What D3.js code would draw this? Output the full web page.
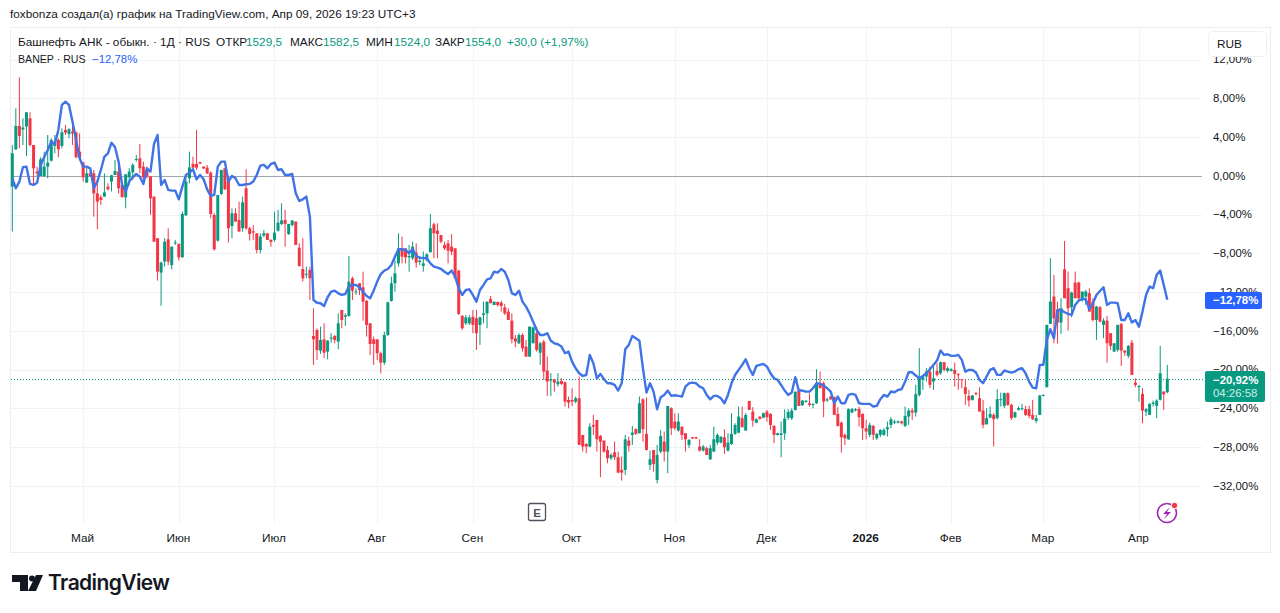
<!DOCTYPE html>
<html>
<head>
<meta charset="utf-8">
<script src="https://cdnjs.cloudflare.com/ajax/libs/d3/7.8.5/d3.min.js"></script>
<style>
    html, body { margin: 0; padding: 0; background: #fff; }
    svg { display: block; }
    text { font-family: "Liberation Sans", sans-serif; font-size: 11.8px; fill: #131722; }
</style>
</head>
<body>
<div id="chart"></div>
<script>
    // Month labels and the bar they sit on
    const monthLabels = ["Май", "Июн", "Июл", "Авг", "Сен", "Окт", "Ноя", "Дек", "2026", "Фев", "Мар", "Апр"];
    const monthBars = [20, 47, 74, 103, 130, 158, 187, 213, 241, 265, 291, 318];
    const percentTicks = [12, 8, 4, 0, -4, -8, -12, -16, -20, -24, -28, -32];

    // BANEP daily candles, % change from the start of the range
    const opens = [
        -1.1,2.75,5.16,4.8,5.1,5.95,3.2,.45,0,0,
        .96,1.58,3.1,3.72,3.1,4.75,4.33,4.58,4.5,2.5,
        1.38,-.69,.27,.27,-1.8,-2.2,-2.13,-1.1,-.58,.1,
        .45,-.93,-2.2,-.14,.38,1.68,1.82,.96,.62,-.07,
        -2.13,-6.43,-9.97,-8.84,-6.54,-9.2,-6.9,-7.02,-8.4,-4.06,
        -.24,1.24,1.24,1.41,.96,.86,.35,-4.02,-6.67,-1.86,
        .79,-.41,-5.16,-3.85,-4.54,-5.4,-1.27,-5.4,-5.71,-5.92,
        -7.64,-6.16,-5.92,-6.6,-6.6,-5.64,-4.95,-4.54,-6,-5.06,
        -4.71,-7.4,-9.6,-10.2,-9.7,
        -16.52,-15.9,-18.03,-16.86,-18.13,-16.8,-16.52,-17.1,-13.83,-14.52,
        -14.45,-10.56,-11.98,-11.08,-11.49,-12.9,-15.21,-16.86,-16.86,-18.3,
        -19.27,-16.41,-12.9,-11.08,-9.02,-7.47,-7.47,-8.4,-8.5,-7.92,
        -8.88,-9.29,-8.67,-7.88,-4.99,-5.64,-6.09,-7.12,-6.95,-7.3,
        -7.47,-9.77,-14.45,-15.21,-15.21,-14.52,-14.69,-15.38,-14.35,-14.18,
        -12.7,-13.32,-13.01,-13.08,-13.56,-14,-14.93,-16.76,-17.27,-16.41,
        -17.62,-18.65,-17.27,-16.24,-18.24,-17.1,-20.09,-21.12,-20.98,-21.5,
        -21.16,-21.29,-23.12,-23.12,-23.29,-22.94,-26.73,-27.66,-27.93,-25.7,
        -25.18,-26.83,-27.31,-28.28,-29.14,-28.52,-29.03,-30.34,-30.34,-27.31,
        -26.73,-26.14,-26.56,-23.05,-26.62,-29.82,-28.28,-31.37,-28.45,-27.42,
        -28.45,-23.98,-25.35,-26.28,-25.87,-26.56,-27.76,-26.97,-26.97,-27.93,
        -28.34,-28.1,-29.24,-28.45,-27.52,-27.52,-26.97,-28.34,-27.66,-26.62,
        -26.49,-25.01,-26.28,-23.22,-24.32,-25.46,-24.84,-24.94,-24.32,-24.56,
        -25.8,-26.73,-26.73,-26.56,-24.97,-25.01,-24.15,-22.15,-23.67,-23.32,
        -23.46,-23.63,-23.46,-21.46,-21.4,-23.18,-22.77,-22.84,-24.56,-25.46,
        -26.73,-27.18,-24.42,-24.21,-24.04,-24.56,-26.04,-26.72,-25.8,-27.07,
        -26.72,-26.72,-26.14,-25.69,-25.45,-25.45,-25.35,-25.8,-24.83,-24.21,
        -24.42,-22.6,-21.05,-20.7,-20.19,-21.22,-20.12,-20.36,-19.22,-20.12,
        -20.12,-20.02,-20.46,-20.98,-21.8,-22.7,-23.11,-22.42,-22.94,-24.21,
        -25.62,-24.94,-24.66,-25,-23.11,-23.73,-22.42,-23.63,-24.9,-24.14,
        -24.07,-24.07,-24.07,-24.66,-25.28,-24.66,-22.7,-21.81,-15.27,-12.45,
        -13.83,-15.13,-9.63,-11.59,-13.55,-11,-11,-12.62,-12.45,-12.1,
        -12.97,-14.86,-13.55,-15.37,-14.93,-16.23,-18.13,-17.95,-15.27,-18.02,
        -18.57,-17.2,-21.33,-21.74,-22.49,-24.32,-24.66,-23.53,-23.73,-23.11,
        -22.25,-22.32
    ];
    const highs = [
        3.2,6.98,10.18,5.95,6.57,6.57,3.2,.96,1.93,2.5,
        4.23,3.89,4.23,3.89,4.92,5.26,4.92,5.95,4.58,4.4,
        1.48,.96,.79,.62,-.76,-1.96,.27,-.76,.1,1.65,
        1.31,-.76,.17,.79,1.31,2.17,3.3,1.48,.96,0,
        -2.13,-6.43,-8.84,-6.43,-5.4,-7.3,-6.6,-6.95,-3.68,.1,
        2.51,2,4.75,1.48,1,1.14,.45,-3.85,-1.96,.62,
        .79,0,-3.34,-3.34,-2.65,-2.13,.69,-5.23,-5.06,-5.92,
        -5.92,-5.57,-5.92,-6.54,-3.68,-3.5,-2.82,-3.5,-4.95,-4.54,
        -4.71,-6.95,-6.43,-9.36,-9.36,
        -13.66,-15.72,-15.55,-15.21,-16.93,-16.24,-16.41,-14.18,-13.83,-14.18,
        -8.26,-10.39,-11.6,-11.08,-9.88,-12.8,-15.21,-16.58,-16.86,-18.13,
        -16.07,-12.97,-10.39,-8.67,-5.92,-6.26,-7.47,-7.12,-6.78,-6.95,
        -8.33,-7.81,-7.98,-3.92,-4.82,-4.89,-6.09,-6.78,-6.61,-6.02,
        -7.47,-9.7,-14.35,-14.35,-14.35,-13.83,-13.83,-14.52,-12.97,-12.97,
        -12.39,-12.97,-12.97,-12.87,-13.21,-13.66,-14.18,-16.41,-16.24,-16.24,
        -16.93,-15.55,-15.62,-15.55,-17.1,-16.92,-18.64,-20.36,-20.98,-20.36,
        -20.88,-21.22,-22.77,-21.91,-22.77,-20.71,-26.73,-27.59,-25.52,-24.66,
        -25.18,-26.73,-27.31,-27.86,-28.62,-27.42,-28.45,-28.96,-26.73,-26.9,
        -25.8,-26.04,-22.77,-22.94,-22.84,-28.34,-28.28,-27.76,-26.21,-26.38,
        -23.74,-23.87,-24.49,-24.49,-25.87,-26.56,-27.18,-26.93,-26.9,-27.18,
        -27.76,-27.93,-27.76,-25.87,-26.56,-26.9,-26.14,-26.56,-24.49,-25.52,
        -23.8,-23.8,-24.49,-23.22,-23.87,-25.01,-24.8,-24.42,-24.15,-24.49,
        -25.7,-26.5,-25.35,-24.08,-24.08,-23.98,-22.26,-22.08,-23.12,-23.15,
        -22.43,-23.46,-19.95,-20.19,-21.22,-22.9,-22.7,-22.77,-23.87,-25.35,
        -26.56,-23.98,-23.97,-23.97,-23.8,-24.49,-25.18,-25.45,-25.69,-26.55,
        -26.14,-26.04,-25.35,-24.9,-25.18,-25.25,-25.25,-23.8,-23.97,-23.97,
        -21.56,-17.78,-20.53,-19.84,-19.67,-19.5,-19.33,-19.16,-19.22,-19.67,
        -19.84,-19.26,-20.36,-20.98,-20.98,-22.08,-22.6,-22.3,-21.8,-23.11,
        -23.97,-23.8,-24.49,-22.01,-22.36,-22.36,-22.36,-23.52,-24.32,-23.8,
        -23.52,-23.73,-23.73,-23.11,-24.66,-22.6,-22.55,-15.37,-8.49,-10.21,
        -12.97,-12.62,-6.71,-9.87,-11.93,-9.87,-10.9,-11.93,-11.76,-11.59,
        -12.62,-13.41,-13.41,-14.69,-14.45,-16.23,-17.27,-15.37,-15.2,-18.02,
        -17.44,-16.92,-20.88,-21.57,-21.91,-23.97,-23.46,-23.18,-23.05,-17.54,
        -22.25,-19.5
    ];
    const lows = [
        -5.74,2.68,2.85,3.2,2.06,3.03,-.93,-.07,0,-.07,
        -.24,1.48,2.34,1.93,2.85,4.23,3.89,3.2,1.82,1.72,
        -.58,-.69,-.07,-4.2,-5.5,-3,-2.13,-1.5,-1.6,.1,
        -1.8,-2.2,-3.34,-.93,-.41,1.48,.27,-.76,-.24,-4.02,
        -6.78,-10.8,-13.4,-9.36,-9.2,-9.63,-7.12,-8.74,-8.4,-4.13,
        -.76,.62,.62,1.24,.75,.2,-4.37,-7.7,-6.78,-1.96,
        -1.44,-6.88,-6.43,-4.71,-5.74,-5.74,-5.57,-6.67,-6.6,-7.98,
        -7.98,-6.33,-6.6,-7.3,-6.78,-5.74,-5.06,-7.3,-6.09,-5.23,
        -7.12,-9.36,-10.9,-10.56,-12.8,
        -19.51,-18.99,-18.37,-18.82,-18.92,-17.2,-17.27,-17.89,-15.72,-15.48,
        -14.52,-12.8,-12.28,-12.28,-14.93,-16.58,-18.48,-19.51,-18.99,-20.37,
        -19.51,-16.52,-12.97,-11.94,-9.36,-9.02,-9.02,-9.88,-8.67,-9.46,
        -9.19,-9.88,-8.84,-7.88,-8.5,-8.5,-6.95,-7.64,-9.02,-8.16,
        -10.56,-14.35,-15.9,-15.38,-15.38,-16.24,-17.96,-17.44,-15.21,-15.72,
        -13.14,-13.32,-13.49,-14,-14.35,-14.86,-17.27,-17.68,-17.34,-18.13,
        -18.65,-18.65,-17.27,-18.13,-19.51,-21.05,-22.7,-22.7,-22.26,-21.74,
        -21.57,-23.8,-23.98,-23.74,-23.46,-27.76,-28.45,-28.62,-28,-26.73,
        -28.45,-31.1,-28.55,-29.65,-29.31,-29.31,-30.68,-31.44,-30.86,-28.45,
        -27.76,-26.73,-26.56,-27.42,-28.34,-30.34,-30.51,-31.72,-28.62,-29.48,
        -30.68,-26.73,-26.21,-26.38,-27.24,-28.45,-28.1,-27.14,-27.14,-28.45,
        -28.45,-28.79,-29.31,-28.45,-27.76,-27.59,-28.69,-28.45,-27.76,-26.73,
        -26.56,-25.94,-26.28,-24.15,-25.87,-25.52,-25.15,-25.01,-25.35,-26.21,
        -27.59,-26.8,-29.03,-27.24,-25.18,-25.18,-24.22,-23.74,-23.74,-23.4,
        -23.8,-23.98,-23.53,-21.91,-24.9,-23.3,-23.12,-24.66,-25.87,-28.55,
        -27.76,-27.24,-24.49,-24.3,-25.86,-27.24,-27.17,-26.96,-27.24,-27.24,
        -26.96,-26.83,-26.9,-26.04,-25.59,-25.55,-25.65,-25.93,-25.69,-25.18,
        -24.83,-22.77,-22.08,-21.22,-21.91,-22.08,-20.7,-20.53,-20.19,-20.29,
        -20.19,-21.74,-22.08,-21.91,-23.63,-23.8,-23.18,-22.65,-24.32,-26.04,
        -25.69,-25,-27.93,-25.11,-23.8,-23.97,-23.73,-25.18,-25,-24.21,
        -24.21,-24.76,-25,-25.18,-25.52,-24.66,-22.75,-21.81,-15.27,-17.27,
        -17.27,-16.3,-12.62,-15.96,-14.58,-12.62,-12.79,-12.97,-13.31,-14,
        -15.03,-16.92,-15.13,-16.75,-19.26,-17.95,-18.13,-18.13,-19.61,-18.57,
        -18.81,-20.53,-21.81,-23.29,-25.52,-24.77,-24.66,-23.8,-25,-23.18,
        -24.15,-22.43
    ];
    const closes = [
        2.34,5.16,4.13,5.0,6.57,3.2,.79,.27,1.72,.96,
        1.38,3.72,3.44,2.75,4.51,4.47,4.82,4.4,1.93,1.86,
        -.14,.27,0,-1.8,-2.65,-2.48,-1.7,-1.38,.07,.52,
        -1.27,-2.2,.17,.45,1.14,1.75,.79,-.14,-.07,-2.3,
        -6.78,-9.87,-8.94,-6.78,-8.84,-7.3,-6.85,-8.4,-3.92,-.58,
        .89,.86,.86,1.27,.76,.27,-3.92,-7.57,-1.96,.62,
        -1.38,-5.4,-3.85,-4.71,-5.74,-2.72,-5.4,-5.99,-5.85,-7.64,
        -6.26,-5.92,-6.6,-6.81,-5.85,-4.82,-4.6,-4.95,-4.95,-4.6,
        -7.12,-9.29,-10.56,-10.1,-10.56,
        -16.86,-17.96,-16.93,-18.24,-17,-16.69,-16.93,-15.21,-14.86,-14.38,
        -10.91,-11.84,-11.91,-11.77,-12.97,-15.38,-17.34,-17.34,-18.3,-19.27,
        -16.41,-13.04,-11.08,-10.05,-7.47,-8.33,-8.4,-8.26,-7.3,-8.95,
        -8.74,-9.02,-8.09,-5.4,-5.92,-5.99,-6.78,-7.47,-7.71,-7.81,
        -10.56,-14.24,-15.72,-14.59,-14.62,-15.38,-16.24,-14.59,-14.18,-12.97,
        -13.14,-12.97,-13.32,-13.42,-14.18,-14.86,-16.86,-17.1,-16.41,-17.79,
        -18.65,-15.55,-15.62,-17.96,-17.27,-20.19,-21.22,-20.98,-21.33,-21.22,
        -21.46,-23.29,-23.39,-23.29,-22.94,-27.76,-27.93,-27.93,-25.87,-25.87,
        -27.18,-27.42,-28.45,-29.14,-28.79,-29.03,-30.62,-30.62,-27.18,-27.86,
        -26.49,-26.62,-23.46,-26.14,-28.28,-29.24,-29.72,-28.79,-26.83,-28.45,
        -23.74,-26.04,-26.04,-25.35,-26.73,-27.18,-27.24,-27.1,-27.1,-28.34,
        -27.93,-28.79,-28.1,-27.18,-26.73,-26.9,-28,-27.52,-26.62,-25.7,
        -24.84,-25.94,-24.66,-24.15,-25.25,-25.11,-25.08,-24.49,-24.9,-25.7,
        -26.73,-26.56,-26.56,-25.04,-24.35,-24.22,-22.26,-23.74,-23.19,-23.19,
        -23.63,-23.53,-21.4,-21.91,-23.29,-23.05,-23.05,-24.66,-25.8,-26.97,
        -27.07,-24.08,-24.04,-24.08,-24.9,-26.04,-26.38,-25.69,-26.72,-26.62,
        -26.21,-26.21,-25.93,-25.11,-25.35,-25.31,-25.52,-24.76,-24.21,-24.42,
        -22.53,-20.77,-20.77,-20.19,-21.56,-20.88,-20.53,-19.22,-20.02,-19.84,
        -19.95,-20.43,-20.53,-21.05,-22.49,-23.18,-22.66,-22.53,-24.32,-25.69,
        -25,-24.56,-25.11,-23.04,-23.04,-22.42,-23.63,-25,-24.38,-23.97,
        -23.97,-24.66,-24.76,-25.11,-25,-22.66,-22.6,-15.37,-12.97,-14.69,
        -15.13,-13.65,-12.62,-13.65,-12.04,-12.62,-12.62,-11.93,-11.93,-14,
        -14.86,-13.48,-15.03,-14.93,-17.27,-17.54,-17.27,-15.37,-18.02,-18.23,
        -17.54,-20.53,-21.57,-21.67,-24.21,-24.08,-23.53,-23.39,-23.18,-20.36,
        -22.53,-20.92
    ];

    // Blue comparison line
    const compareLine = [
        -.24,-1.27,-.58,.9,.96,-.82,-.93,-.69,1.14,1.93,
        2.68,3.54,3.3,4.75,7.33,7.67,7.33,5.6,3.72,1.82,
        .96,.96,.79,-1.27,-.58,.62,2,2.34,3.44,2.96,
        1.48,-.93,-1.62,-.58,-.14,.21,-.07,-.82,.79,.45,
        3.3,4.23,-.93,-.41,-1.44,-1.51,-1.51,-2.41,-1.1,.1,
        .34,.69,-.34,.1,-.34,-1.38,-2.06,-1.96,.96,1.48,
        1.48,-.58,0,-.24,-.93,-.93,-.86,-.82,-.58,.1,
        1.07,1.14,.79,1.24,1.38,.62,.69,.1,.1,.21,
        -1.79,-2.58,-2.41,-2.13,-4.2,
        -12.8,-13.08,-13.14,-13.42,-12.52,-11.94,-11.84,-12.11,-12.28,-12.18,
        -11.42,-11.25,-11.25,-11.49,-11.94,-12.39,-12.63,-11.84,-10.9,-10.12,
        -9.77,-9.6,-9.19,-8.33,-7.57,-7.57,-7.64,-7.98,-7.54,-8.26,
        -8.43,-8.47,-8.5,-9.02,-9.36,-9.46,-9.6,-9.88,-10.12,-9.77,
        -10.39,-11.6,-12.28,-11.77,-11.7,-12.28,-12.97,-11.77,-11.25,-10.67,
        -10.56,-9.88,-9.98,-9.6,-9.88,-10.74,-12.11,-12.28,-11.84,-12.97,
        -13.49,-14.18,-15.04,-15.9,-16.41,-16.41,-16.24,-17,-17.27,-17.37,
        -17.61,-18.3,-18.13,-19.16,-19.85,-20.36,-20.64,-20.54,-18.47,-19.33,
        -20.88,-20.43,-20.98,-21.4,-21.4,-21.57,-22.15,-21.4,-17.89,-17.44,
        -16.51,-16.75,-17,-19.85,-22.36,-21.4,-22.26,-24.08,-22.84,-22.6,
        -22.15,-22.7,-22.63,-22.7,-22.77,-21.74,-21.4,-21.33,-21.4,-21.74,
        -21.91,-22.6,-23.05,-22.7,-22.7,-22.94,-23.46,-22.6,-21.4,-20.54,
        -20.02,-19.5,-18.92,-19.85,-20.54,-19.61,-19.5,-19.4,-19.68,-20.36,
        -20.88,-21.05,-21.57,-22.15,-22.6,-22.36,-20.78,-22.15,-22.15,-22.26,
        -22.26,-21.91,-21.4,-21.46,-21.64,-21.91,-22.26,-23.46,-22.77,-23.46,
        -23.46,-22.6,-22.5,-22.6,-23.46,-23.52,-23.52,-23.52,-23.8,-23.73,
        -23.04,-22.6,-22.77,-22.25,-22.32,-22.08,-22.01,-21.22,-20.26,-20.26,
        -20.6,-20.88,-20.64,-20.36,-19.95,-19.5,-19.05,-18.02,-18.47,-18.4,
        -18.57,-18.57,-18.47,-18.98,-20.19,-20.02,-20.02,-20.29,-21.05,-21.39,
        -20.7,-20.02,-19.84,-20.53,-20.53,-20.08,-20.19,-20.29,-20.19,-19.95,
        -19.84,-20.36,-21.22,-21.84,-21.91,-19.5,-19.5,-16.92,-15.82,-16.75,
        -13.83,-13.83,-14.07,-14.24,-14.34,-13.31,-12.86,-12.69,-12.73,-13.76,
        -13.14,-12.28,-11.87,-11.49,-13.31,-13.07,-13.07,-13.14,-14.86,-14.86,
        -14.17,-15.13,-14.86,-15.55,-14,-12.28,-11.42,-11.59,-10.21,-9.77,
        -11.25,-12.78
    ];

    const UP = "#089981", DOWN = "#F23645", BLUE = "#3f73e6";
    const lastClose = closes[closes.length - 1];
    const lastCompare = compareLine[compareLine.length - 1];

    const width = 1280, height = 613;
    const svg = d3.select("#chart").append("svg")
        .attr("width", width).attr("height", height);

    const x = d3.scaleLinear().domain([0, closes.length - 1]).range([12.3, 1167.3]);
    const y = d3.scaleLinear().domain([12, -32]).range([59.7, 486]);

    const pctFormat = v => (v < 0 ? "−" : "") + Math.abs(v).toFixed(2).replace(".", ",") + "%";

    // Header line above the frame
    svg.append("text").attr("x", 10).attr("y", 18)
        .text("foxbonza создал(а) график на TradingView.com, Апр 09, 2026 19:23 UTC+3");

    // Chart frame
    svg.append("rect").attr("x", 10.5).attr("y", 27.5).attr("width", 1260).attr("height", 525)
        .attr("fill", "#fff").attr("stroke", "#eceef2");

    // Grid
    svg.append("g").selectAll("line").data(monthBars).join("line")
        .attr("x1", d => Math.round(x(d)) + .5).attr("x2", d => Math.round(x(d)) + .5)
        .attr("y1", 28).attr("y2", 524)
        .attr("stroke", "#f3f4f8");
    svg.append("g").selectAll("line").data(percentTicks.filter(d => d !== 0)).join("line")
        .attr("x1", 11).attr("x2", 1202)
        .attr("y1", d => Math.round(y(d)) + .5).attr("y2", d => Math.round(y(d)) + .5)
        .attr("stroke", "#f1f2f6");
    svg.append("line").attr("x1", 11).attr("x2", 1202)
        .attr("y1", Math.round(y(0)) + .5).attr("y2", Math.round(y(0)) + .5)
        .attr("stroke", "#a3a6af");

    // Last price dotted line
    svg.append("line").attr("x1", 11).attr("x2", 1206)
        .attr("y1", Math.round(y(lastClose)) + .5).attr("y2", Math.round(y(lastClose)) + .5)
        .attr("stroke", UP).attr("stroke-dasharray", "1 2");

    // Candles
    const candles = svg.append("g").selectAll("g").data(closes).join("g")
        .attr("fill", (d, i) => d >= opens[i] ? UP : DOWN)
        .attr("stroke", (d, i) => d >= opens[i] ? UP : DOWN);
    candles.append("line")
        .attr("x1", (d, i) => x(i)).attr("x2", (d, i) => x(i))
        .attr("y1", (d, i) => y(highs[i])).attr("y2", (d, i) => y(lows[i]));
    candles.append("rect")
        .attr("x", (d, i) => x(i) - 1.5).attr("width", 3)
        .attr("y", (d, i) => y(Math.max(d, opens[i])))
        .attr("height", (d, i) => Math.max(1, Math.abs(y(d) - y(opens[i]))))
        .attr("stroke", "none");

    // Comparison line
    const line = d3.line().x((d, i) => x(i)).y(d => y(d));
    svg.append("path").datum(compareLine)
        .attr("d", line)
        .attr("fill", "none").attr("stroke", BLUE).attr("stroke-width", 2.4).attr("stroke-linejoin", "round");

    // Axes
    const yAxis = svg.append("g").attr("transform", "translate(1213,-0.5)")
        .call(d3.axisRight(y).tickValues(percentTicks).tickFormat(pctFormat).tickSize(0).tickPadding(0));
    yAxis.select(".domain").remove();
    yAxis.selectAll("text").style("font-family", '"Liberation Sans", sans-serif').style("font-size", "11.4px");

    const xAxis = svg.append("g").attr("transform", "translate(-1,532)")
        .call(d3.axisBottom(x).tickValues(monthBars).tickFormat((d, i) => monthLabels[i]).tickSize(0).tickPadding(2));
    xAxis.select(".domain").remove();
    xAxis.selectAll("text").style("font-family", '"Liberation Sans", sans-serif').style("font-size", "11.8px")
        .style("font-weight", d => d === 241 ? "bold" : "normal");

    // Legend
    const legendRow = [
        ["Башнефть АНК - обыкн. · 1Д · RUS", 18, "#131722"],
        ["ОТКР", 216, "#131722"], ["1529,5", 246, UP],
        ["МАКС", 290, "#131722"], ["1582,5", 323, UP],
        ["МИН", 366, "#131722"], ["1524,0", 394, UP],
        ["ЗАКР", 435, "#131722"], ["1554,0", 465, UP],
        ["+30,0 (+1,97%)", 507, UP]
    ];
    svg.append("g").selectAll("text").data(legendRow).join("text")
        .attr("x", d => d[1]).attr("y", 46).style("fill", d => d[2]).text(d => d[0]);
    svg.append("text").attr("x", 18).attr("y", 63).style("font-size", "10.6px").text("BANEP · RUS");
    svg.append("text").attr("x", 92).attr("y", 63).style("fill", "#2962ff").style("font-size", "11.4px").text("−12,78%");

    // RUB button covers the top tick label
    svg.append("rect").attr("x", 1208.5).attr("y", 31.5).attr("width", 58).attr("height", 25).attr("rx", 4)
        .attr("fill", "#fff").attr("stroke", "#eef0f4");
    svg.append("text").attr("x", 1217).attr("y", 48).text("RUB");

    // Last value badges
    svg.append("rect").attr("x", 1205).attr("y", 292).attr("width", 57).attr("height", 17).attr("rx", 2)
        .attr("fill", "#2962ff");
    svg.append("text").attr("x", 1213).attr("y", 304).style("font-size", "11.4px")
        .style("fill", "#fff").style("font-weight", "bold").text(pctFormat(lastCompare));
    svg.append("rect").attr("x", 1205).attr("y", 371).attr("width", 60).attr("height", 31).attr("rx", 2)
        .attr("fill", UP);
    svg.append("text").attr("x", 1213).attr("y", 384).style("font-size", "11.4px")
        .style("fill", "#fff").style("font-weight", "bold").text(pctFormat(lastClose));
    svg.append("text").attr("x", 1213).attr("y", 397).style("font-size", "11.4px")
        .style("fill", "#cfeee7").text("04:26:58");

    // Earnings marker
    svg.append("rect").attr("x", 528.5).attr("y", 503.5).attr("width", 17).attr("height", 17).attr("rx", 2)
        .attr("fill", "#fff").attr("stroke", "#50535e").attr("stroke-width", 1.3);
    svg.append("text").attr("x", 537).attr("y", 516.5).attr("text-anchor", "middle")
        .style("font-size", "11.5px").style("font-weight", "bold").style("fill", "#50535e").text("E");

    // Lightning badge
    svg.append("circle").attr("cx", 1167).attr("cy", 513).attr("r", 9.5)
        .attr("fill", "none").attr("stroke", "#9c27b0").attr("stroke-width", 1.6);
    svg.append("path").attr("d", "M1170 507 L1163 514 L1167 514 L1164 519 L1171 512 L1167 512 Z").attr("fill", "#9c27b0");
    svg.append("circle").attr("cx", 1174.5).attr("cy", 505.5).attr("r", 3.2)
        .attr("fill", "#f23645").attr("stroke", "#fff");

    // TradingView logo
    svg.append("path").attr("fill", "#131722")
        .attr("d", "M12 575 H28 V591 H20 V582 H12 Z M36 575 H43 L36 591 H28 L33 581 Z");
    svg.append("circle").attr("cx", 32).attr("cy", 578.5).attr("r", 3).attr("fill", "#131722");
    svg.append("text").attr("x", 48).attr("y", 590)
        .style("font-family", "Inter, sans-serif").style("font-size", "21px").style("font-weight", 600)
        .attr("textLength", 122).text("TradingView");
</script>
</body>
</html>
